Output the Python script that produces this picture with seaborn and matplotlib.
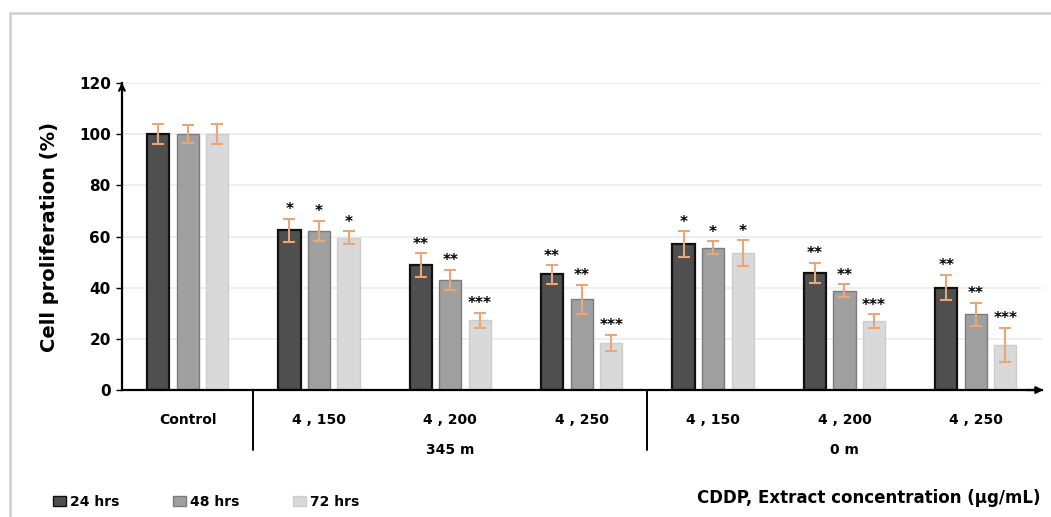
import numpy as np
import pandas as pd
import matplotlib
matplotlib.use('Agg')
import matplotlib.pyplot as plt
import seaborn as sns
from matplotlib.lines import Line2D
from matplotlib.patches import Patch

# categories (unique keys) and their shown labels
CATS = ['Control', '345m 4,150', '345m 4,200', '345m 4,250', '0m 4,150', '0m 4,200', '0m 4,250']
CAT_LABELS = ['Control', '4 , 150', '4 , 200', '4 , 250', '4 , 150', '4 , 200', '4 , 250']
GROUP_LABELS = ['345 m', '0 m']
TIMES = ['24 hrs', '48 hrs', '72 hrs']

hrs24 = [100, 62.5, 48.8, 45.2, 57.0, 45.8, 40.0]
hrs48 = [100, 62.1, 43.0, 35.4, 55.6, 38.8, 29.7]
hrs72 = [100, 59.6, 27.3, 18.5, 53.6, 27.0, 17.6]
err24 = [4.0, 4.5, 4.7, 3.6, 5.0, 4.0, 5.0]
err48 = [3.5, 4.0, 4.0, 5.7, 2.5, 2.5, 4.5]
err72 = [4.0, 2.4, 2.9, 3.2, 5.0, 2.6, 6.8]
stars24 = ['', '*', '**', '**', '*', '**', '**']
stars48 = ['', '*', '**', '**', '*', '**', '**']
stars72 = ['', '*', '***', '***', '*', '***', '***']

FILLS = ['#4f4f4f', '#a0a0a0', '#d9d9d9']
EDGES = ['#111111', '#7c7c7c', '#cdcdcd']
ERR_COLOR = '#e9a679'

df = pd.DataFrame({
    'cat': CATS * 3,
    'time': [t for t in TIMES for _ in CATS],
    'value': hrs24 + hrs48 + hrs72,
})
errs = [err24, err48, err72]
stars = [stars24, stars48, stars72]

sns.set_style('white')
plt.rcParams.update({'text.color': 'black', 'axes.labelcolor': 'black',
                     'xtick.color': 'black', 'ytick.color': 'black'})
fig = plt.figure(figsize=(10.51, 5.17), dpi=100)
ax = fig.add_axes([0.116, 0.2456, 0.875, 0.5939])

sns.barplot(data=df, x='cat', y='value', hue='time', order=CATS, hue_order=TIMES,
            palette=FILLS, width=0.675, gap=0.25, errorbar=None, ax=ax, legend=False)

bar_conts = list(ax.containers)
for k, cont in enumerate(bar_conts):
    for i, bar in enumerate(cont):
        bar.set_edgecolor(EDGES[k])
        bar.set_linewidth(1.6 if k == 0 else 1.0)
        xc = bar.get_x() + bar.get_width() / 2
        h = bar.get_height()
        ax.errorbar(xc, h, yerr=errs[k][i], color=ERR_COLOR, capsize=4,
                    elinewidth=1.5, capthick=1.5, zorder=5)
        if stars[k][i]:
            ax.text(xc, h + errs[k][i] + 0.6, stars[k][i], ha='center', va='bottom',
                    fontsize=11, fontweight='bold', color='black')

ax.set_xlim(-0.5, 6.5)
ax.set_ylim(0, 120)
ax.set_yticks(range(0, 121, 20))
ax.yaxis.grid(True, color='#ececec', linewidth=1.2)
ax.set_axisbelow(True)
for s in ['top', 'right']:
    ax.spines[s].set_visible(False)
for s in ['left', 'bottom']:
    ax.spines[s].set_color('black')
    ax.spines[s].set_linewidth(1.6)
ax.tick_params(axis='y', left=True, length=4, width=1, labelsize=11, pad=4)
for lbl in ax.get_yticklabels():
    lbl.set_fontweight('bold')
ax.set_xticks(range(len(CATS)))
ax.set_xticklabels(CAT_LABELS, fontsize=10, fontweight='bold')
ax.tick_params(axis='x', bottom=False, pad=13)
ax.set_xlabel('')
ax.set_ylabel('Cell proliferation (%)', fontsize=14, fontweight='bold', labelpad=14)

# axis arrows
ax.annotate('', xy=(0, 1.01), xytext=(0, 0.98), xycoords='axes fraction',
            arrowprops=dict(arrowstyle='->', color='black', lw=1.6))
ax.annotate('', xy=(1.005, 0), xytext=(0.98, 0), xycoords='axes fraction',
            arrowprops=dict(arrowstyle='-|>', color='black', lw=1.6))

# group separators and group labels
trans = ax.get_xaxis_transform()
for xs in [0.5, 3.5]:
    ax.plot([xs, xs], [0, -0.195], color='black', lw=1.4, transform=trans, clip_on=False)
for xg, lab in zip([2, 5], GROUP_LABELS):
    ax.text(xg, -0.195, lab, transform=trans, ha='center', va='center',
            fontsize=10, fontweight='bold')

# legend and x title
handles = [Patch(facecolor=FILLS[k], edgecolor=EDGES[k]) for k in range(3)]
fig.legend(handles, TIMES, loc='center left', bbox_to_anchor=(0.0505, 0.029), ncol=3,
           frameon=False, handlelength=0.9, handleheight=0.8, handletextpad=0.3,
           columnspacing=3.9, borderaxespad=0, borderpad=0,
           prop={'size': 10, 'weight': 'bold'})
fig.text(0.99, 0.036, 'CDDP, Extract concentration (µg/mL)', ha='right', va='center',
         fontsize=12, fontweight='bold')

# light frame
fig.add_artist(Line2D([0.0095, 1.0], [0.975, 0.975], color='#d4d4d4', lw=2))
fig.add_artist(Line2D([0.0095, 0.0095], [0.0, 0.975], color='#d4d4d4', lw=2))

fig.savefig('out.png', dpi=100, facecolor='white')
